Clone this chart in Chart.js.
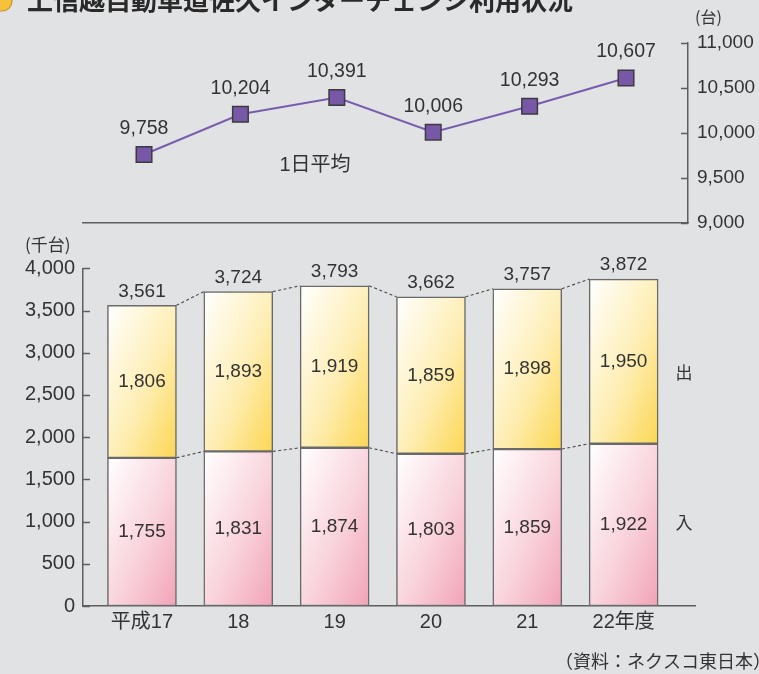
<!DOCTYPE html>
<html><head><meta charset="utf-8">
<script src="https://cdn.jsdelivr.net/npm/chart.js@4.4.1/dist/chart.umd.min.js"></script>
<style>
html,body{margin:0;padding:0;background:#e1e2e4;}
#wrap{position:relative;width:759px;height:674px;overflow:hidden;background:#e1e2e4;}
canvas{position:absolute;left:0;top:0;}
</style></head><body>
<div id="wrap">
<canvas id="topChart" width="759" height="674"></canvas>
<canvas id="botChart" width="759" height="674"></canvas>
</div>
<script>
// ---- data ----
const categories = ['平成17', '18', '19', '20', '21', '22年度'];
const dailyAverage = [9758, 10204, 10391, 10006, 10293, 10607];   // 1日平均（台）
const entryCounts = [1755, 1831, 1874, 1803, 1859, 1922];         // 入（千台）
const exitCounts  = [1806, 1893, 1919, 1859, 1898, 1950];         // 出（千台）
const totalCounts = [3561, 3724, 3793, 3662, 3757, 3872];         // 合計（千台）
const leftAxisTicks  = [0, 500, 1000, 1500, 2000, 2500, 3000, 3500, 4000];
const rightAxisTicks = [9000, 9500, 10000, 10500, 11000];

// ---- style ----
const W = 759, H = 674;
const NUMFONT = "'Liberation Sans', Arial, sans-serif";
const CJKFONT = "'Noto Sans CJK JP', sans-serif";
const MIXFONT = "'Liberation Sans', 'Noto Sans CJK JP', sans-serif";
const TXT = '#333333';
const AXIS = '#5e5e5e';
const BAR_W = 69;
const fmt = v => Number(v).toLocaleString('en-US');

function gradFill(ctx, midColor, endColor, lowerArr, upperArr) {
  const chart = ctx.chart;
  if (ctx.type !== 'data' || !chart.scales || !chart.scales.x) return endColor;
  const i = ctx.dataIndex;
  const xs = chart.scales.x, ys = chart.scales.y;
  const xc = xs.getPixelForValue(i);
  const base = lowerArr ? lowerArr[i] : 0;
  const yTop = ys.getPixelForValue(base + upperArr[i]);
  const yBase = ys.getPixelForValue(base);
  if (![xc, yTop, yBase].every(Number.isFinite)) return endColor;
  const w = BAR_W, h = Math.max(1, yBase - yTop);
  const t = 2 * w * h / (h * h + w * w);
  const x0 = xc - w / 2;
  const g = chart.ctx.createLinearGradient(x0, yTop, x0 + t * h, yTop + t * w);
  g.addColorStop(0, '#ffffff');
  g.addColorStop(0.55, midColor);
  g.addColorStop(1, endColor);
  return g;
}

const inwardTicks = {
  id: 'inwardTicks',
  afterDraw(chart) {
    const ys = chart.scales.y, ctx = chart.ctx;
    const right = ys.position === 'right';
    const x0 = right ? ys.left : ys.right;
    const dir = right ? -1 : 1;
    ctx.save();
    ctx.strokeStyle = AXIS; ctx.lineWidth = 1.5;
    ys.ticks.forEach(t => {
      const y = Math.round(ys.getPixelForValue(t.value)) + 0.5;
      ctx.beginPath(); ctx.moveTo(x0, y); ctx.lineTo(x0 + dir * 7, y); ctx.stroke();
    });
    ctx.restore();
  }
};

// ---- bottom: stacked bars ----
const barLabels = {
  id: 'barLabels',
  afterDatasetsDraw(chart) {
    const ctx = chart.ctx;
    const m0 = chart.getDatasetMeta(0), m1 = chart.getDatasetMeta(1);
    const ys = chart.scales.y;
    ctx.save();
    // dotted connectors
    ctx.strokeStyle = '#4a4a4a'; ctx.lineWidth = 1.1; ctx.setLineDash([3, 2.5]);
    [[m0, entryCounts], [m1, totalCounts]].forEach(([meta, lvl]) => {
      for (let i = 0; i < meta.data.length - 1; i++) {
        const a = meta.data[i], b = meta.data[i + 1];
        ctx.beginPath();
        ctx.moveTo(a.x + a.width / 2, ys.getPixelForValue(lvl[i]));
        ctx.lineTo(b.x - b.width / 2, ys.getPixelForValue(lvl[i + 1]));
        ctx.stroke();
      }
    });
    ctx.setLineDash([]);
    ctx.fillStyle = TXT; ctx.textAlign = 'center'; ctx.textBaseline = 'middle';
    ctx.font = `19px ${NUMFONT}`;
    [[m0, entryCounts], [m1, exitCounts]].forEach(([meta, vals]) => {
      meta.data.forEach((el, i) => ctx.fillText(fmt(vals[i]), el.x, (el.y + el.base) / 2));
    });
    m1.data.forEach((el, i) => ctx.fillText(fmt(totalCounts[i]), el.x, el.y - 14));
    // series names
    ctx.font = `17px ${CJKFONT}`;
    ctx.fillText(chart.data.datasets[1].label, 684, 373);
    ctx.fillText(chart.data.datasets[0].label, 684, 523);
    // units, title, source
    ctx.font = `17px ${CJKFONT}`;
    ctx.textAlign = 'left';
    ctx.fillText('(千台)', 25, 245);
    ctx.font = `16px ${CJKFONT}`;
    ctx.fillText('(台)', 695, 17);
    ctx.font = `18px ${CJKFONT}`;
    ctx.fillText('（資料：ネクスコ東日本）', 555, 661);
    ctx.font = `bold 26px ${CJKFONT}`;
    ctx.fillStyle = '#2a2a2a';
    ctx.fillText('上信越自動車道佐久インターチェンジ利用状況', 27, 0);
    ctx.beginPath(); ctx.arc(2, 1, 10, 0, Math.PI * 2);
    ctx.fillStyle = '#f5c23c'; ctx.fill();
    ctx.strokeStyle = '#c8921e'; ctx.lineWidth = 1.2; ctx.stroke();
    ctx.restore();
  }
};

new Chart(document.getElementById('botChart'), {
  type: 'bar',
  data: {
    datasets: [
      { label: '入', data: entryCounts.map((v, i) => ({ x: i, y: v })),
        backgroundColor: c => gradFill(c, '#f9d3dc', '#f2a3b6', null, entryCounts) },
      { label: '出', data: exitCounts.map((v, i) => ({ x: i, y: v })),
        backgroundColor: c => gradFill(c, '#feeeb4', '#fcd653', entryCounts, exitCounts) }
    ].map(d => Object.assign(d, { borderColor: '#6a6a6a', borderWidth: 1.5, borderSkipped: false, barThickness: BAR_W }))
  },
  options: {
    responsive: false, animation: false, devicePixelRatio: 1,
    layout: { padding: { top: 268.3, right: W - 695.6, bottom: 0, left: 0 } },
    plugins: { legend: { display: false }, tooltip: { enabled: false } },
    scales: {
      x: {
        type: 'linear', min: -0.612, max: 5.747, offset: false, stacked: true,
        grid: { display: false, drawTicks: false },
        border: { display: true, color: AXIS, width: 1.5 },
        ticks: { stepSize: 1, includeBounds: false, autoSkip: false, maxRotation: 0, padding: 4,
          font: { family: MIXFONT, size: 20 }, color: TXT,
          callback: v => (Number.isInteger(v) && categories[v] !== undefined) ? categories[v] : '' },
        afterFit: s => { s.height = H - 606; }
      },
      y: {
        min: 0, max: 4000, stacked: true,
        afterBuildTicks: s => { s.ticks = leftAxisTicks.map(v => ({ value: v })); },
        grid: { display: false, drawTicks: false },
        border: { display: true, color: AXIS, width: 1.5 },
        ticks: { padding: 8, font: { family: NUMFONT, size: 20 }, color: TXT, callback: fmt },
        afterFit: s => { s.width = 83; }
      }
    }
  },
  plugins: [inwardTicks, barLabels]
});

// ---- top: daily average line ----
const lineLabels = {
  id: 'lineLabels',
  afterDatasetsDraw(chart) {
    const ctx = chart.ctx, meta = chart.getDatasetMeta(0);
    ctx.save();
    ctx.fillStyle = TXT; ctx.textAlign = 'center'; ctx.textBaseline = 'middle';
    ctx.font = `19.5px ${NUMFONT}`;
    meta.data.forEach((p, i) => ctx.fillText(fmt(dailyAverage[i]), p.x, p.y - 26));
    ctx.font = `20px ${MIXFONT}`;
    ctx.fillText(chart.data.datasets[0].label, 315, 165);
    ctx.restore();
  }
};

new Chart(document.getElementById('topChart'), {
  type: 'line',
  data: {
    datasets: [{
      label: '1日平均',
      data: dailyAverage.map((v, i) => ({ x: i, y: v })),
      borderColor: '#7a5cae', borderWidth: 2, tension: 0,
      pointStyle: 'rect', pointRadius: 11, pointHoverRadius: 11,
      pointBackgroundColor: '#7857a8', pointBorderColor: '#3c3c3c', pointBorderWidth: 1.5,
      clip: false
    }]
  },
  options: {
    responsive: false, animation: false, devicePixelRatio: 1,
    layout: { padding: { top: 42.7, right: 0, bottom: H - 222.7, left: 83 } },
    plugins: { legend: { display: false }, tooltip: { enabled: false } },
    scales: {
      x: {
        type: 'linear', min: -0.633, max: 5.643,
        grid: { display: false, drawTicks: false },
        border: { display: true, color: AXIS, width: 1.5 },
        ticks: { display: false },
        afterFit: s => { s.height = 0; }
      },
      y: {
        position: 'right', min: 9000, max: 11000,
        afterBuildTicks: s => { s.ticks = rightAxisTicks.map(v => ({ value: v })); },
        grid: { display: false, drawTicks: false },
        border: { display: true, color: AXIS, width: 1.5 },
        ticks: { padding: 9, font: { family: NUMFONT, size: 19 }, color: TXT, callback: fmt },
        afterFit: s => { s.width = W - 688; }
      }
    }
  },
  plugins: [inwardTicks, lineLabels]
});
</script>
</body></html>
